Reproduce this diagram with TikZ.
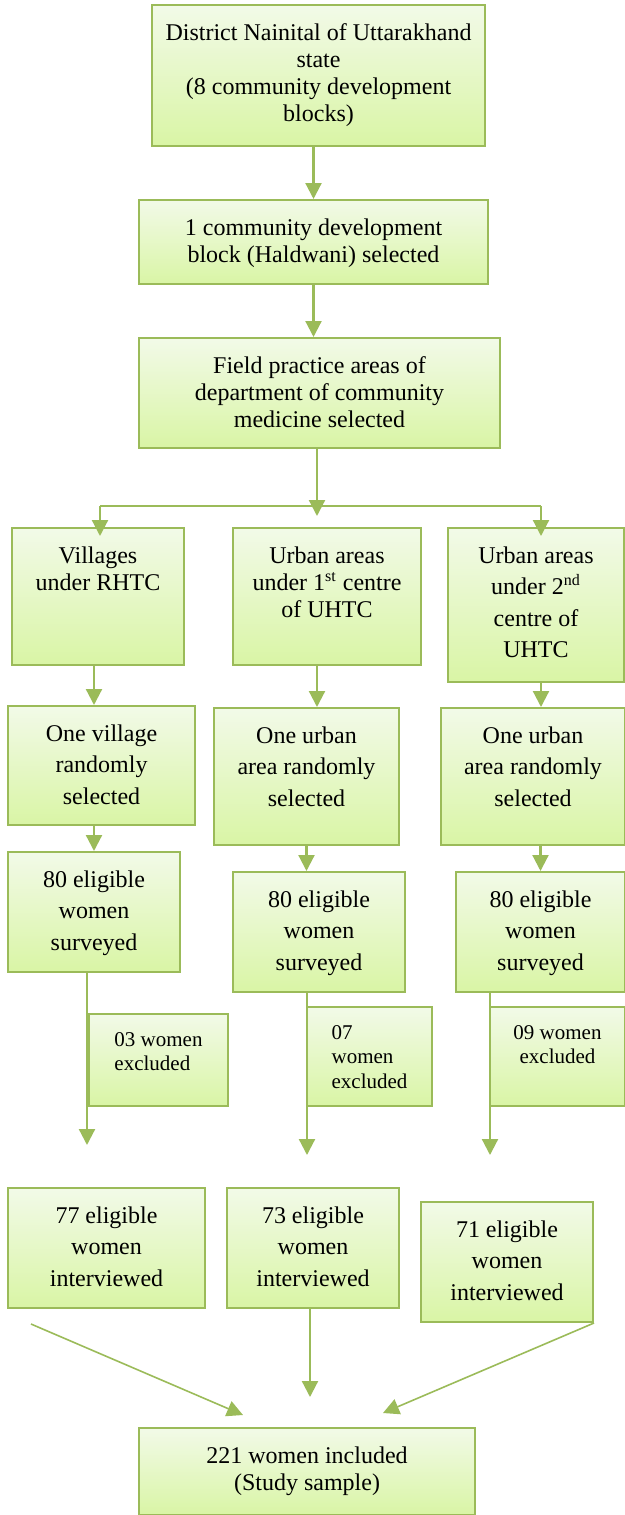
\documentclass[tikz,border=0pt]{standalone}
\usepackage{fontspec}
\setmainfont{Liberation Serif}
\usetikzlibrary{arrows.meta}

\definecolor{boxtop}{HTML}{F2FAE8}
\definecolor{boxbot}{HTML}{D9F5A5}
\definecolor{boxline}{HTML}{9BBB59}

\begin{document}
\begin{tikzpicture}[
  x=0.5pt, y=-0.5pt,
  box/.style   = {draw=boxline, line width=1pt, top color=boxtop, bottom color=boxbot,
                  inner sep=0pt},
  txt/.style   = {anchor=north, yshift=-5.5pt, inner sep=4pt, align=center,
                  font=\fontsize{12pt}{13.5pt}\selectfont},
  loose/.style = {txt, font=\fontsize{12pt}{15.75pt}\selectfont},
  small/.style = {txt, font=\fontsize{10.5pt}{12.25pt}\selectfont},
  arr/.style   = {draw=boxline, line width=1.1pt,
                  -{Triangle[length=8pt,width=8pt]}},
  into/.style  = {shorten >=-4.5pt},   % the fork tips sit over the box top
  slim/.style  = {line width=0.8pt},
]
  \useasboundingbox (0,0) rectangle (625,1515);

  \node[box, minimum width=166.5pt, minimum height=70.5pt,
        label={[txt]north:District Nainital of Uttarakhand\\state\\(8 community development\\blocks)}]
        (b1) at (318.5,75.5) {};
  \node[box, minimum width=174.5pt, minimum height=42pt,
        label={[txt]north:1 community development\\block (Haldwani) selected}]
        (b2) at (313.5,242) {};
  \node[box, minimum width=180.5pt, minimum height=55pt,
        label={[txt]north:Field practice areas of\\department of community\\medicine selected}]
        (b3) at (319.5,393) {};

  % three arms
  \node[box, minimum width=86pt, minimum height=68.5pt,
        label={[txt]north:Villages\\under RHTC}] (r1a) at (98,596.5) {};
  \node[box, minimum width=94pt, minimum height=68.5pt,
        label={[txt]north:Urban areas\\under 1\textsuperscript{st} centre\\of UHTC}] (r1b) at (327,596.5) {};
  \node[box, minimum width=88pt, minimum height=77pt,
        label={[loose]north:Urban areas\\under 2\textsuperscript{nd}\\centre of\\UHTC}] (r1c) at (536,605) {};

  \node[box, minimum width=93.5pt, minimum height=59.5pt,
        label={[loose]north:One village\\randomly\\selected}] (r2a) at (101.5,765.5) {};
  \node[box, minimum width=92.5pt, minimum height=68.5pt,
        label={[loose]north:One urban\\area randomly\\selected}] (r2b) at (306.5,776.5) {};
  \node[box, minimum width=92pt, minimum height=68.5pt,
        label={[loose]north:One urban\\area randomly\\selected}] (r2c) at (533,776.5) {};

  \node[box, minimum width=86pt, minimum height=60pt,
        label={[loose]north:80 eligible\\women\\surveyed}] (r3a) at (94,912) {};
  \node[box, minimum width=86pt, minimum height=60pt,
        label={[loose]north:80 eligible\\women\\surveyed}] (r3b) at (319,932) {};
  \node[box, minimum width=84.5pt, minimum height=60pt,
        label={[loose]north:80 eligible\\women\\surveyed}] (r3c) at (540.5,932) {};

  % exclusions
  \coordinate (endA) at (87,1145);
  \coordinate (endB) at (307,1155);
  \coordinate (endC) at (490,1155);
  \draw[arr] (r3a.south -| endA) -- (endA);
  \draw[arr] (r3b.south -| endB) -- (endB);
  \draw[arr] (r3c.south -| endC) -- (endC);

  \node[box, minimum width=69.5pt, minimum height=46pt,
        label={[small, align=left]north:03 women\\excluded}] (e1) at (158.5,1060) {};
  \node[box, minimum width=62.5pt, minimum height=49.5pt,
        label={[small, align=left]north:07\\women\\excluded}] (e2) at (369.5,1056.5) {};
  \node[box, minimum width=67.5pt, minimum height=49.5pt,
        label={[small]north:09 women\\excluded}] (e3) at (557.5,1056.5) {};

  \node[box, minimum width=98.5pt, minimum height=60pt,
        label={[loose]north:77 eligible\\women\\interviewed}] (f1) at (106.5,1248) {};
  \node[box, minimum width=86pt, minimum height=60pt,
        label={[loose]north:73 eligible\\women\\interviewed}] (f2) at (313,1248) {};
  \node[box, minimum width=86pt, minimum height=60pt,
        label={[loose]north:71 eligible\\women\\interviewed}] (f3) at (507,1262) {};

  \node[box, minimum width=168pt, minimum height=43.5pt,
        label={[txt]north:221 women included\\(Study sample)}] (fin) at (307,1471.5) {};

  % top chain and fork
  \coordinate (bus)  at (317,506);
  \coordinate (fork) at (317,516);
  \draw[arr] (b1.south -| b2) -- (b2.north);
  \draw[arr] (b2.south) -- (b2.south |- b3.north);
  \draw[draw=boxline, line width=1.1pt] ([xshift=1pt]r1a.north |- bus) -- ([xshift=2.5pt]r1c.north |- bus);
  \draw[arr] (b3.south -| fork) -- (fork);
  \draw[arr, into] ([xshift=1pt]r1a.north |- bus) -- ([xshift=1pt]r1a.north);
  \draw[arr, into] ([xshift=2.5pt]r1c.north |- bus) -- ([xshift=2.5pt]r1c.north);

  \draw[arr] ([xshift=-2pt]r1a.south) -- ([xshift=-2pt]r1a.south |- r2a.north);
  \draw[arr] (r1b.south -| fork) -- (r2b.north -| fork);
  \draw[arr] ([xshift=2.5pt]r1c.south) -- ([xshift=2.5pt]r1c.south |- r2c.north);

  \draw[arr] (r2a.south -| r3a) -- (r3a.north);
  \draw[arr] (r2b.south) -- (r2b.south |- r3b.north);
  \draw[arr] (r2c.south -| r3c) -- (r3c.north);

  % converge on the sample
  \coordinate (inA) at (243,1415);
  \coordinate (inB) at (310,1397);
  \coordinate (inC) at (383,1413);
  \draw[arr, slim] ([shift={(12pt,-7.5pt)}]f1.south west) -- (inA);
  \draw[arr] (f2.south -| inB) -- (inB);
  \draw[arr, slim] (f3.south east) -- (inC);
\end{tikzpicture}
\end{document}
